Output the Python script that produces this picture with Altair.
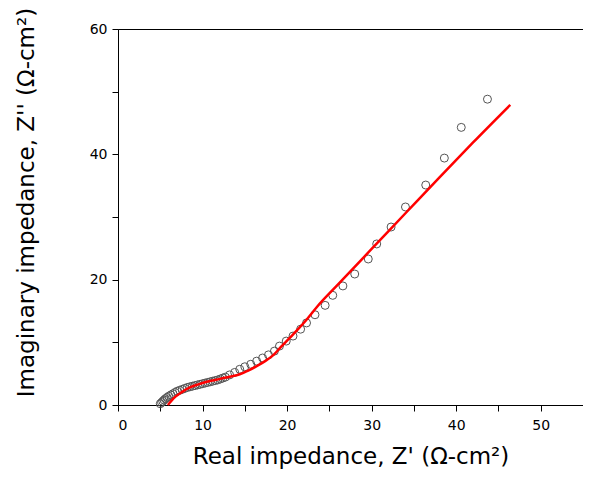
import altair as alt
import pandas as pd

# Measured data (circles)
zr_meas = [5.0, 5.15, 5.3, 5.45, 5.6, 5.8, 6.0, 6.25, 6.5, 6.75, 7.0, 7.3, 7.6, 7.9, 8.2,
           8.5, 8.8, 9.1, 9.4, 9.7, 10.0, 10.3, 10.6, 10.9, 11.2, 11.5, 11.8, 12.1, 12.4,
           12.7, 13.2, 13.8, 14.4, 15.0, 15.7, 16.4, 17.1, 17.8, 18.5, 19.1, 19.9, 20.7,
           21.6, 22.3, 23.3, 24.5, 25.4, 26.6, 28.0, 29.6, 30.6, 32.3, 34.0, 36.4, 38.6,
           40.6, 43.7]
zi_meas = [0.2, 0.4, 0.6, 0.8, 1.0, 1.2, 1.4, 1.6, 1.8, 2.0, 2.2, 2.35, 2.5, 2.65, 2.8,
           2.9, 3.0, 3.1, 3.2, 3.3, 3.4, 3.5, 3.6, 3.7, 3.8, 3.9, 4.0, 4.15, 4.3,
           4.45, 4.8, 5.2, 5.7, 6.1, 6.5, 7.0, 7.5, 8.0, 8.6, 9.4, 10.2, 11.0,
           12.1, 13.1, 14.4, 15.9, 17.5, 19.0, 20.9, 23.3, 25.7, 28.4, 31.6, 35.1, 39.4,
           44.3, 48.8]

# Fitted curve (red line)
zr_fit = [5.9, 6.6, 7.6, 8.5, 9.5, 10.5, 11.5, 12.5, 13.5, 14.4, 15.4, 16.4, 17.4, 18.4,
          19.3, 20.3, 21.3, 22.3, 23.5, 26.0, 30.0, 34.0, 38.0, 42.0, 46.4]
zi_fit = [0.0, 1.1, 2.1, 2.8, 3.3, 3.7, 4.0, 4.3, 4.6, 4.9, 5.5, 6.2, 7.0, 8.0,
          9.3, 10.7, 12.1, 13.6, 15.6, 19.2, 24.9, 30.6, 36.3, 41.9, 47.9]

meas = pd.DataFrame({"x": zr_meas, "y": zi_meas})
fit = pd.DataFrame({"x": zr_fit, "y": zi_fit})

FONT = "DejaVu Sans"

xscale = alt.Scale(domain=[0, 55], nice=False, zero=False)
yscale = alt.Scale(domain=[0, 60], nice=False, zero=False)

xaxis = alt.Axis(
    title="Real impedance, Z' (Ω-cm²)",
    values=[0, 5, 10, 15, 20, 25, 30, 35, 40, 45, 50, 55],
    labelExpr="datum.value % 10 == 0 ? datum.label : ''",
    grid=False, domainColor="black", tickColor="black", tickSize=6,
    labelFont=FONT, labelFontSize=14, labelColor="black", labelPadding=7,
    titleFont=FONT, titleFontSize=23, titleFontWeight="normal", titleColor="black",
    titleY=58, titleBaseline="alphabetic",
)
yaxis = alt.Axis(
    title="Imaginary impedance, Z'' (Ω-cm²)",
    values=[0, 10, 20, 30, 40, 50, 60],
    labelExpr="datum.value % 20 == 0 ? datum.label : ''",
    grid=False, domainColor="black", tickColor="black", tickSize=6,
    labelFont=FONT, labelFontSize=14, labelColor="black", labelPadding=5,
    titleFont=FONT, titleFontSize=23, titleFontWeight="normal", titleColor="black",
    titleX=-85, titleY=173, titleBaseline="alphabetic", titleAngle=-90,
)

points = alt.Chart(meas).mark_point(
    shape="circle", filled=False, size=64, stroke="#555555", strokeWidth=1, opacity=1
).encode(
    x=alt.X("x:Q", scale=xscale, axis=xaxis),
    y=alt.Y("y:Q", scale=yscale, axis=yaxis),
)

line = alt.Chart(fit).mark_line(color="#ff0000", strokeWidth=2.5, interpolate="monotone").encode(
    x=alt.X("x:Q", scale=xscale),
    y=alt.Y("y:Q", scale=yscale),
)

chart = alt.layer(points, line).properties(
    width=465, height=376,
    autosize=alt.AutoSizeParams(type="none"),
    padding={"left": 110, "top": 21, "right": 0, "bottom": 65},
    background="white",
).configure_view(stroke="black", strokeWidth=1)

chart.save("out.html", embed_options={"renderer": "svg", "actions": False})
